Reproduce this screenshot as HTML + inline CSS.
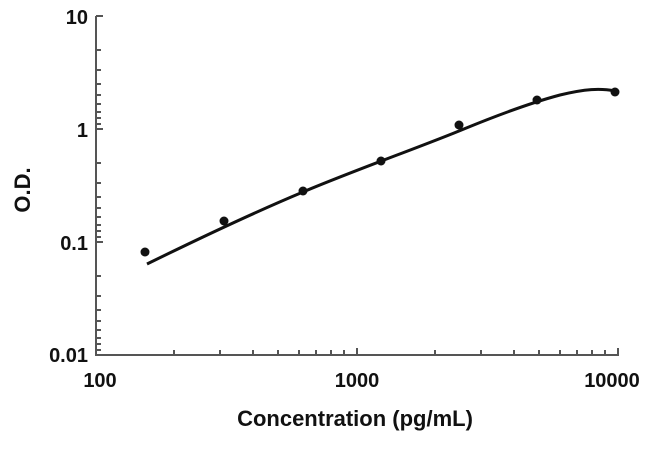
<!DOCTYPE html>
<html><head><style>body{margin:0;background:#fff}</style></head><body>
<svg width="650" height="447" xmlns="http://www.w3.org/2000/svg" font-family="Liberation Sans, sans-serif" font-weight="bold">
<g stroke="#555" stroke-width="2" fill="none">
<path d="M96,16 V355 H618 V349"/>
<path d="M96,16h7M96,50h5M96,70h5M96,84h5M96,95h5M96,104h5M96,112h5M96,118h5M96,124h5M96,129h7M96,163h5M96,183h5M96,197h5M96,208h5M96,217h5M96,225h5M96,231h5M96,237h5M96,242h7M96,276h5M96,296h5M96,310h5M96,321h5M96,330h5M96,338h5M96,344h5M96,350h5"/>
<path d="M174,355v-5M220,355v-5M253,355v-5M278,355v-5M299,355v-5M316,355v-5M331,355v-5M344,355v-5M357,355v-7M435,355v-5M481,355v-5M514,355v-5M539,355v-5M560,355v-5M577,355v-5M592,355v-5M605,355v-5M618,355v-7"/>
</g>
<g font-size="20" text-anchor="end" fill="#111">
<text x="88" y="24">10</text><text x="88" y="137">1</text><text x="88" y="250">0.1</text><text x="88" y="362">0.01</text>
</g>
<g font-size="20" text-anchor="middle" fill="#111">
<text x="100" y="387">100</text><text x="357" y="387">1000</text><text x="612" y="387">10000</text>
<text x="355" y="426" font-size="22">Concentration (pg/mL)</text>
<text transform="translate(30,190) rotate(-90)" font-size="22">O.D.</text>
</g>
<path d="M147,264 C200,238 260,210 303,192 C350,172 420,147 459,131 C500,114 530,103 560,95 C585,89 600,88 615,91" stroke="#111" stroke-width="3" fill="none"/>
<g fill="#111">
<circle cx="145" cy="252" r="4.5"/><circle cx="224" cy="221" r="4.5"/><circle cx="303" cy="191" r="4.5"/><circle cx="381" cy="161" r="4.5"/><circle cx="459" cy="125" r="4.5"/><circle cx="537" cy="100" r="4.5"/><circle cx="615" cy="92" r="4.5"/>
</g>
</svg>
</body></html>
